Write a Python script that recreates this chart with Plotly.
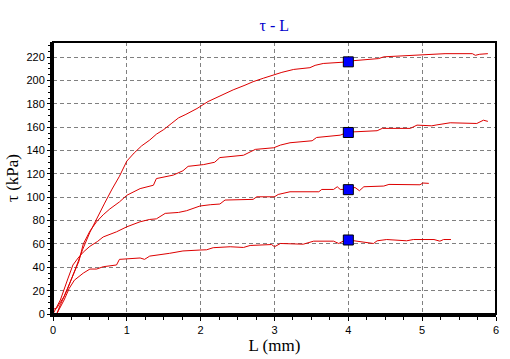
import plotly.graph_objects as go

# Curve A (top)
a_L = [0, 0.05, 0.1, 0.2, 0.3, 0.4, 0.5, 0.6, 0.7, 0.8, 0.9, 1.0, 1.1, 1.2, 1.31, 1.4, 1.5, 1.6, 1.7, 1.8, 1.95,
       2.1, 2.26, 2.44, 2.6, 2.71, 2.85, 2.99, 3.1, 3.26, 3.48, 3.55, 3.66, 3.93, 4.0, 4.07, 4.41, 4.48, 4.88,
       4.95, 5.31, 5.68, 5.72, 5.78, 5.89]
a_T = [0, 0, 8, 22, 38, 55, 70, 83, 95, 107, 118, 131, 138, 144, 149, 154, 158, 163, 168, 171, 176,
       182, 187, 192, 196, 199, 202, 205, 207, 209.5, 211, 213, 214.6, 215.7, 216, 217, 218.8, 220.3, 221.5,
       222, 223, 223, 221.6, 222.5, 223]
# Curve B
b_L = [0, 0.05, 0.15, 0.25, 0.35, 0.41, 0.5, 0.59, 0.68, 0.77, 0.9, 1.0, 1.1, 1.18, 1.36, 1.40, 1.63, 1.76,
       1.83, 2.04, 2.19, 2.26, 2.58, 2.74, 2.99, 3.08, 3.21, 3.51, 3.57, 3.89, 4.0, 4.07, 4.39, 4.46, 4.84,
       4.93, 5.13, 5.2, 5.38, 5.74, 5.83, 5.89]
b_T = [4, 5, 15, 30, 45, 60, 71, 79, 85, 90, 96, 101.7, 105, 107.4, 110.3, 116, 119, 122.7,
       126.5, 128, 130, 134, 136, 141, 142.4, 144.7, 146.7, 148.4, 151.2, 153.2, 155.8, 156, 157, 159, 159,
       161.8, 161.2, 162, 163.8, 163.2, 166, 165]
# Curve C
c_L = [0, 0.1, 0.2, 0.27, 0.34, 0.41, 0.5, 0.6, 0.68, 0.86, 1.0, 1.18, 1.31, 1.40, 1.52, 1.70, 1.81, 1.99,
       2.13, 2.26, 2.33, 2.71, 2.76, 3.0, 3.05, 3.21, 3.60, 3.64, 3.80, 3.85, 3.89, 4.0, 4.09, 4.15, 4.21,
       4.48, 4.55, 4.97, 5.01, 5.09]
c_T = [0, 12, 30, 42, 48, 53, 58, 62, 66, 70.4, 74.7, 79, 81, 81.5, 86.2, 87, 88.5, 92.5,
       93.6, 94.2, 97.6, 98.2, 100.4, 100.4, 102.4, 104.7, 104.7, 106.7, 106.7, 109, 106.7, 106.7, 108.4, 105.6, 109,
       109.6, 111, 110.7, 112.2, 111.9]
# Curve D (bottom)
d_L = [0, 0.05, 0.15, 0.22, 0.29, 0.36, 0.41, 0.5, 0.59, 0.68, 0.86, 0.90, 1.0, 1.18, 1.24, 1.31, 1.58, 1.76,
       1.99, 2.08, 2.17, 2.40, 2.58, 2.67, 2.96, 3.0, 3.08, 3.39, 3.53, 3.80, 3.87, 3.93, 4.0, 4.07, 4.34,
       4.39, 4.52, 4.79, 4.88, 5.16, 5.24, 5.29, 5.39]
d_T = [0, 0, 12, 22, 29, 33, 35, 38.5, 38.5, 40.5, 42, 46.8, 47.3, 48, 46.8, 49.6, 52, 54,
       54.8, 55, 56.8, 57.6, 57, 58.7, 59.5, 57.6, 60.4, 59.8, 62.4, 62.4, 60.4, 62.4, 63.4, 62.7, 60.4,
       62.7, 63.8, 62.7, 63.8, 63.8, 62.4, 63.8, 63.8]

marker_L = [4, 4, 4, 4]
marker_T = [216, 155.5, 106.5, 63.4]

fig = go.Figure()
for xs, ys in [(a_L, a_T), (b_L, b_T), (c_L, c_T), (d_L, d_T)]:
    fig.add_trace(go.Scatter(x=xs, y=ys, mode="lines",
                             line=dict(color="#DD0000", width=1), showlegend=False))
fig.add_trace(go.Scatter(x=marker_L, y=marker_T, mode="markers",
                         marker=dict(symbol="square", size=10, color="#0000FF",
                                     line=dict(color="black", width=1)),
                         showlegend=False))

fig.update_layout(
    width=510, height=359,
    margin=dict(l=53, r=14, t=42, b=45, autoexpand=False),
    paper_bgcolor="white", plot_bgcolor="white",
    title=dict(text="τ - L", x=0.538, xanchor="center", y=0.93, yanchor="middle",
               font=dict(family="Liberation Serif", size=16, color="#0000CC")),
    font=dict(family="Liberation Sans", size=11, color="black"),
)
fig.update_xaxes(
    range=[0, 6], dtick=1, tick0=0, automargin=False,
    showgrid=True, gridcolor="#808080", griddash="4px,3px", gridwidth=1,
    showline=True, linecolor="black", linewidth=3, mirror=False,
    ticks="outside", ticklen=4, tickcolor="black",
    minor=dict(dtick=0.25, ticks="outside", ticklen=3, tickcolor="black", showgrid=False),
    zeroline=False,
    title=dict(text="L (mm)", font=dict(family="Liberation Serif", size=17, color="black"), standoff=4),
    tickfont=dict(family="Liberation Sans", size=11),
)
fig.update_yaxes(
    range=[0, 233], tickvals=list(range(0, 221, 20)), automargin=False,
    showgrid=True, gridcolor="#808080", griddash="4px,3px", gridwidth=1,
    showline=True, linecolor="black", linewidth=3, mirror=False,
    ticks="outside", ticklen=3, tickcolor="black",
    minor=dict(dtick=5, ticks="outside", ticklen=2, tickcolor="black", showgrid=False),
    zeroline=False,
    title=dict(text="τ (kPa)", font=dict(family="Liberation Serif", size=17, color="black"), standoff=4),
    tickfont=dict(family="Liberation Sans", size=11),
)
fig.add_shape(type="rect", xref="paper", yref="paper", x0=0, y0=0, x1=1, y1=1,
              line=dict(color="black", width=2), fillcolor="rgba(0,0,0,0)", layer="above")

fig.write_html("out.html", config={"displayModeBar": False},
               post_script="document.body.style.margin='0';document.body.style.padding='0';")
